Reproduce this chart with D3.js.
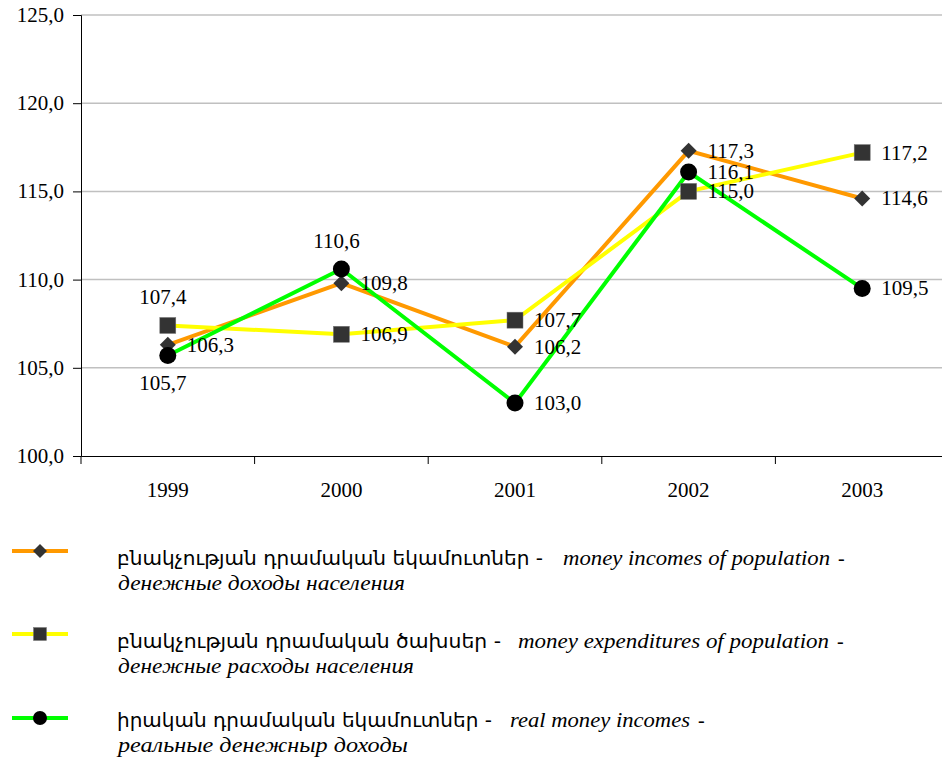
<!DOCTYPE html>
<html>
<head>
<meta charset="utf-8">
<script src="https://cdn.jsdelivr.net/npm/d3@7"></script>
<style>
  body { margin: 0; background: #fff; }
  svg { display: block; }
</style>
</head>
<body>
<svg id="chart" width="942" height="758"></svg>
<script>
// data
const years = ['1999', '2000', '2001', '2002', '2003'];
const incomes = [106.3, 109.8, 106.2, 117.3, 114.6];
const expenditures = [107.4, 106.9, 107.7, 115.0, 117.2];
const realIncomes = [105.7, 110.6, 103.0, 116.1, 109.5];
const yTicks = [100, 105, 110, 115, 120, 125];

// label placement per point: r = right, t = above, b = below
const incomesPos = ['r', 'r', 'r', 'r', 'r'];
const expendPos = ['t', 'r', 'r', 'r', 'r'];
const realPos = ['b', 't', 'r', 'r', 'r'];

const legendItems = [
  { arm: 'բնակչության դրամական եկամուտներ -', en: 'money incomes of population', ru: 'денежные доходы населения',
    armW: 426, enX: 563, enW: 267, ruW: 287 },
  { arm: 'բնակչության դրամական ծախսեր -', en: 'money expenditures of population', ru: 'денежные расходы населения',
    armW: 384, enX: 518, enW: 311, ruW: 296 },
  { arm: 'իրական դրամական եկամուտներ -', en: 'real money incomes', ru: 'реальные денежныр доходы',
    armW: 375, enX: 510, enW: 180, ruW: 290 }
];

const series = [
  { values: incomes, color: '#ff9900', marker: 'diamond', pos: incomesPos },
  { values: expenditures, color: '#ffff00', marker: 'square', pos: expendPos },
  { values: realIncomes, color: '#00ff00', marker: 'circle', pos: realPos }
];

const svg = d3.select('#chart');
const margin = { top: 15, left: 81, right: 949, bottom: 456 };
const fmt = v => d3.format('.1f')(v).replace('.', ',');
const NUM_STYLE = 'font-family: serif; font-size: 21px';

const x = d3.scaleBand().domain(years).range([margin.left, margin.right]);
const y = d3.scaleLinear().domain([100, 125]).range([margin.bottom, margin.top]);
const cx = d => x(d) + x.bandwidth() / 2;

// gridlines
svg.append('g')
  .selectAll('line')
  .data(yTicks.slice(1))
  .enter().append('line')
  .attr('x1', margin.left).attr('x2', margin.right)
  .attr('y1', d => y(d)).attr('y2', d => y(d))
  .attr('stroke', '#c0c0c0').attr('stroke-width', 1.5);

// y axis: line + ticks from d3, labels drawn as own texts
const yAxis = svg.append('g')
  .attr('transform', `translate(${margin.left},0)`)
  .call(d3.axisLeft(y).tickValues(yTicks).tickFormat('').tickSize(8));
yAxis.selectAll('line, path').attr('stroke', '#000');
svg.append('g')
  .selectAll('text')
  .data(yTicks)
  .enter().append('text')
  .attr('style', NUM_STYLE)
  .attr('x', margin.left - 17)
  .attr('y', d => y(d) + 7)
  .attr('text-anchor', 'end')
  .attr('fill', '#000')
  .text(fmt);

// x axis
const xAxis = svg.append('g')
  .attr('transform', `translate(0,${margin.bottom})`)
  .call(d3.axisBottom(x).tickSize(0).tickFormat(''));
xAxis.select('path').attr('stroke', '#000');
xAxis.selectAll('.bound')
  .data(d3.range(years.length + 1))
  .enter().append('line')
  .attr('class', 'bound')
  .attr('x1', i => margin.left + i * x.step()).attr('x2', i => margin.left + i * x.step())
  .attr('y1', 0).attr('y2', 8)
  .attr('stroke', '#000');
svg.append('g')
  .selectAll('text')
  .data(years)
  .enter().append('text')
  .attr('style', NUM_STYLE)
  .attr('x', d => cx(d))
  .attr('y', margin.bottom + 41)
  .attr('text-anchor', 'middle')
  .attr('fill', '#000')
  .text(d => d);

const line = d3.line().x((d, i) => cx(years[i])).y(d => y(d));

function drawMarker(g, type, px, py, s) {
  if (type === 'diamond') {
    g.append('path')
      .attr('d', `M${px},${py - s}L${px + s},${py}L${px},${py + s}L${px - s},${py}Z`)
      .attr('fill', '#333');
  } else if (type === 'square') {
    g.append('rect')
      .attr('x', px - s).attr('y', py - s).attr('width', 2 * s).attr('height', 2 * s)
      .attr('fill', '#333').attr('stroke', '#777').attr('stroke-width', 0.5);
  } else {
    g.append('circle').attr('cx', px).attr('cy', py).attr('r', s).attr('fill', '#000');
  }
}

const markerSize = { diamond: 8, square: 8, circle: 8.5 };

series.forEach(s => {
  svg.append('path')
    .datum(s.values)
    .attr('d', line)
    .attr('fill', 'none')
    .attr('stroke', s.color)
    .attr('stroke-width', 4);
});

series.forEach(s => {
  const g = svg.append('g');
  s.values.forEach((v, i) => drawMarker(g, s.marker, cx(years[i]), y(v), markerSize[s.marker]));
});

// data labels
series.forEach(s => {
  svg.append('g')
    .selectAll('text')
    .data(s.values)
    .enter().append('text')
    .attr('style', NUM_STYLE)
    .attr('x', (d, i) => s.pos[i] === 'r' ? cx(years[i]) + 19 : cx(years[i]) - 5)
    .attr('y', (d, i) => y(d) + 7 + (s.pos[i] === 't' ? -28 : s.pos[i] === 'b' ? 28 : 0))
    .attr('text-anchor', (d, i) => s.pos[i] === 'r' ? 'start' : 'middle')
    .attr('fill', '#000')
    .text(fmt);
});

// legend
const legend = svg.append('g');
const legendY = [551, 634, 718];
const textY = [565, 648, 727];
legendItems.forEach((item, i) => {
  const ly = legendY[i];
  const s = series[i];
  legend.append('line')
    .attr('x1', 12).attr('x2', 68).attr('y1', ly).attr('y2', ly)
    .attr('stroke', s.color).attr('stroke-width', 4);
  drawMarker(legend, s.marker, 40, ly, s.marker === 'square' ? 6.5 : 7);

  const t1 = textY[i];
  legend.append('text')
    .attr('x', 117).attr('y', t1)
    .attr('style', 'font-family: DejaVu Sans Condensed; font-size: 19px')
    .attr('textLength', item.armW).attr('lengthAdjust', 'spacingAndGlyphs')
    .text(item.arm);
  legend.append('text')
    .attr('x', item.enX).attr('y', t1)
    .attr('style', 'font-family: serif; font-style: italic; font-size: 20px')
    .attr('textLength', item.enW).attr('lengthAdjust', 'spacingAndGlyphs')
    .text(item.en);
  legend.append('text')
    .attr('x', item.enX + item.enW + 8).attr('y', t1)
    .attr('style', 'font-family: serif; font-size: 20px')
    .text('-');
  legend.append('text')
    .attr('x', 118).attr('y', t1 + 25)
    .attr('style', 'font-family: serif; font-style: italic; font-size: 20px')
    .attr('textLength', item.ruW).attr('lengthAdjust', 'spacingAndGlyphs')
    .text(item.ru);
});
</script>
</body>
</html>
